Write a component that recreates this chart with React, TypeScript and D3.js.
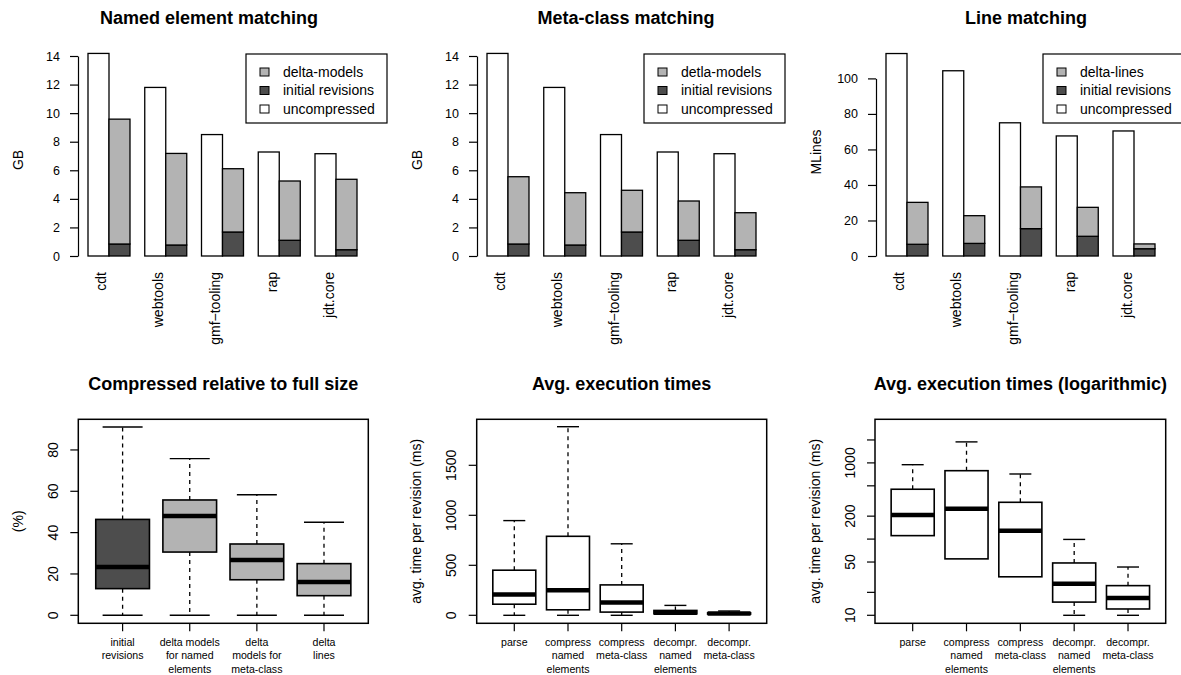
import React, { useEffect, useRef } from 'react';
import * as d3 from 'd3';

const FONT = 'Liberation Sans, Arial, Helvetica, sans-serif';

// top row: storage per project
const projects = ['cdt', 'webtools', 'gmf\u2212tooling', 'rap', 'jdt.core'];
const uncompressedGB = [14.18, 11.8, 8.5, 7.28, 7.16];
const initialGB = [0.84, 0.77, 1.68, 1.1, 0.44];
const deltaNamedGB = [8.74, 6.41, 4.43, 4.15, 4.93];
const deltaMetaGB = [4.71, 3.66, 2.92, 2.75, 2.59];
const uncompressedLines = [114, 104.3, 75, 67.6, 70.4];
const initialLines = [6.6, 7.1, 15.4, 11.1, 4.1];
const deltaLines = [23.6, 15.6, 23.5, 16.3, 2.7];
const gbTicks = [0, 2, 4, 6, 8, 10, 12, 14];
const lineTicks = [0, 20, 40, 60, 80, 100];

// bottom row: box stats [min, q1, median, q3, max]
const ratioLabels = [
  ['initial', 'revisions'],
  ['delta models', 'for named', 'elements'],
  ['delta', 'models for', 'meta-class'],
  ['delta', 'lines'],
];
const ratioStats = [
  [0, 12.9, 23.4, 46.4, 91.1],
  [0, 30.6, 48.0, 55.8, 75.8],
  [0, 17.2, 26.8, 34.5, 58.3],
  [0, 9.5, 16.1, 25.0, 45.0],
];
const ratioFills = ['#4d4d4d', '#b3b3b3', '#b3b3b3', '#b3b3b3'];
const ratioTicks = [0, 20, 40, 60, 80];

const timeLabels = [
  ['parse'],
  ['compress', 'named', 'elements'],
  ['compress', 'meta-class'],
  ['decompr.', 'named', 'elements'],
  ['decompr.', 'meta-class'],
];
const timeStats = [
  [0, 111, 207, 451, 947],
  [0, 55, 250, 790, 1886],
  [0, 32, 129, 304, 715],
  [10, 14.9, 26, 48.6, 99],
  [10, 12.1, 16.9, 24.5, 43],
];
const timeTicks = [0, 500, 1000, 1500];
const logTicks = [10, 20, 50, 100, 200, 500, 1000, 2000];
const logTickLabels = [10, 50, 200, 1000];

function drawBars(svg, o) {
  const g = svg.append('g');
  const y = d3.scaleLinear().domain([0, o.yTop]).range([256, o.yTopPx]);
  const x = d3.scaleBand().domain(projects).range([o.left + 10, o.left + 279]).paddingInner(0.26).paddingOuter(0);
  const bw = x.bandwidth() / 2;

  projects.forEach((p, i) => {
    const x0 = x(p);
    g.append('rect').attr('x', x0).attr('width', bw)
      .attr('y', y(o.uncompressed[i])).attr('height', y(0) - y(o.uncompressed[i]))
      .attr('fill', '#fff').attr('stroke', '#000').attr('stroke-width', 1.3);
    g.append('rect').attr('x', x0 + bw).attr('width', bw)
      .attr('y', y(o.initial[i])).attr('height', y(0) - y(o.initial[i]))
      .attr('fill', '#4d4d4d').attr('stroke', '#000').attr('stroke-width', 1.3);
    const top = o.initial[i] + o.delta[i];
    g.append('rect').attr('x', x0 + bw).attr('width', bw)
      .attr('y', y(top)).attr('height', y(o.initial[i]) - y(top))
      .attr('fill', '#b3b3b3').attr('stroke', '#000').attr('stroke-width', 1.3);

    g.append('text')
      .attr('transform', `translate(${x0 + bw / 2 + 8},272) rotate(-90)`)
      .attr('text-anchor', 'end').attr('font-size', 14).attr('font-family', FONT)
      .text(p);
  });

  const axis = g.append('g').attr('transform', `translate(${o.left},0)`)
    .call(d3.axisLeft(y).tickValues(o.ticks).tickSize(8).tickSizeOuter(0).tickPadding(10));
  axis.selectAll('text').attr('font-size', 12.5).attr('font-family', FONT).attr('fill', '#000');
  axis.selectAll('line, path').attr('stroke', '#000').attr('stroke-width', 1.2);

  g.append('text').attr('transform', `translate(${o.left - 55},${o.ylabY}) rotate(-90)`)
    .attr('text-anchor', 'middle').attr('font-size', 14).attr('font-family', FONT).text(o.ylab);

  g.append('text').attr('x', o.titleX).attr('y', 24).attr('text-anchor', 'middle')
    .attr('font-size', 18).attr('font-weight', 'bold').attr('font-family', FONT).text(o.title);

  // legend
  const lg = g.append('g').attr('transform', `translate(${o.legendX},54)`);
  lg.append('rect').attr('width', 141).attr('height', 69).attr('fill', '#fff').attr('stroke', '#000').attr('stroke-width', 1.2);
  const fills = ['#b3b3b3', '#4d4d4d', '#fff'];
  o.legend.forEach((label, i) => {
    const cy = 18 + i * 18.5;
    lg.append('rect').attr('x', 14).attr('y', cy - 4).attr('width', 9).attr('height', 8)
      .attr('fill', fills[i]).attr('stroke', '#000').attr('stroke-width', 1);
    lg.append('text').attr('x', 37).attr('y', cy).attr('dy', '0.35em')
      .attr('font-size', 14).attr('font-family', FONT).text(label);
  });
}

function drawBoxes(svg, o) {
  const g = svg.append('g');
  const [x0, x1, y0, y1] = o.frame;
  const n = o.stats.length;
  const x = d3.scaleLinear().domain([0.5 - 0.04 * n, n + 0.5 + 0.04 * n]).range([x0, x1]);
  const y = o.y;
  const half = (x(1.4) - x(1)) ;

  o.stats.forEach((s, i) => {
    const cx = x(i + 1);
    const [mn, q1, med, q3, mx] = s;
    const lowOk = !(o.log && mn <= 0);
    g.append('line').attr('x1', cx).attr('x2', cx).attr('y1', y(q3)).attr('y2', y(mx))
      .attr('stroke', '#000').attr('stroke-width', 1.3).attr('stroke-dasharray', '4,4');
    g.append('line').attr('x1', cx - o.cap).attr('x2', cx + o.cap).attr('y1', y(mx)).attr('y2', y(mx))
      .attr('stroke', '#000').attr('stroke-width', 1.4);
    if (lowOk) {
      g.append('line').attr('x1', cx).attr('x2', cx).attr('y1', y(q1)).attr('y2', y(mn))
        .attr('stroke', '#000').attr('stroke-width', 1.3).attr('stroke-dasharray', '4,4');
      g.append('line').attr('x1', cx - o.cap).attr('x2', cx + o.cap).attr('y1', y(mn)).attr('y2', y(mn))
        .attr('stroke', '#000').attr('stroke-width', 1.4);
    }
    g.append('rect').attr('x', cx - half).attr('width', 2 * half)
      .attr('y', y(q3)).attr('height', y(q1) - y(q3))
      .attr('fill', o.fills ? o.fills[i] : '#fff').attr('stroke', '#000').attr('stroke-width', 1.6);
    g.append('line').attr('x1', cx - half).attr('x2', cx + half).attr('y1', y(med)).attr('y2', y(med))
      .attr('stroke', '#000').attr('stroke-width', 4.5);

    g.append('line').attr('x1', cx).attr('x2', cx).attr('y1', y1).attr('y2', y1 + 8)
      .attr('stroke', '#000').attr('stroke-width', 1.2);
    o.labels[i].forEach((line, j) => {
      g.append('text').attr('x', cx).attr('y', y1 + 22.7 + j * 13.4).attr('text-anchor', 'middle')
        .attr('font-size', 10.6).attr('font-family', FONT).text(line);
    });
  });

  g.append('rect').attr('x', x0).attr('y', y0).attr('width', x1 - x0).attr('height', y1 - y0)
    .attr('fill', 'none').attr('stroke', '#000').attr('stroke-width', 1.5);

  o.ticks.forEach(t => {
    g.append('line').attr('x1', x0 - 8).attr('x2', x0).attr('y1', y(t)).attr('y2', y(t))
      .attr('stroke', '#000').attr('stroke-width', 1.2);
  });
  o.tickLabels.forEach(t => {
    g.append('text').attr('transform', `translate(${x0 - 20.5},${y(t)}) rotate(-90)`)
      .attr('text-anchor', 'middle').attr('font-size', 14).attr('font-family', FONT).text(t);
  });

  g.append('text').attr('transform', `translate(${x0 - 55.5},${(y0 + y1) / 2}) rotate(-90)`)
    .attr('text-anchor', 'middle').attr('font-size', 14).attr('font-family', FONT).text(o.ylab);

  g.append('text').attr('x', (x0 + x1) / 2).attr('y', 390).attr('text-anchor', 'middle')
    .attr('font-size', 18).attr('font-weight', 'bold').attr('font-family', FONT).text(o.title);
}

export default function App() {
  const chartRef = useRef(null);

  useEffect(() => {
    const svg = d3.select(chartRef.current);
    svg.selectAll('*').remove();

    drawBars(svg, {
      left: 78, yTop: 14, yTopPx: 56, ticks: gbTicks, ylab: 'GB', ylabY: 160,
      title: 'Named element matching', titleX: 209, legendX: 246,
      legend: ['delta-models', 'initial revisions', 'uncompressed'],
      uncompressed: uncompressedGB, initial: initialGB, delta: deltaNamedGB,
    });
    drawBars(svg, {
      left: 477, yTop: 14, yTopPx: 56, ticks: gbTicks, ylab: 'GB', ylabY: 160,
      title: 'Meta-class matching', titleX: 626, legendX: 644,
      legend: ['detla-models', 'initial revisions', 'uncompressed'],
      uncompressed: uncompressedGB, initial: initialGB, delta: deltaMetaGB,
    });
    drawBars(svg, {
      left: 876, yTop: 100, yTopPx: 78.4, ticks: lineTicks, ylab: 'MLines', ylabY: 152,
      title: 'Line matching', titleX: 1026, legendX: 1043,
      legend: ['delta-lines', 'initial revisions', 'uncompressed'],
      uncompressed: uncompressedLines, initial: initialLines, delta: deltaLines,
    });

    drawBoxes(svg, {
      frame: [78.3, 368.3, 419.3, 623.3],
      y: d3.scaleLinear().domain([-3.87, 94.83]).range([623.3, 419.3]),
      stats: ratioStats, fills: ratioFills, labels: ratioLabels, cap: 20,
      ticks: ratioTicks, tickLabels: ratioTicks,
      title: 'Compressed relative to full size', ylab: '(%)',
    });
    drawBoxes(svg, {
      frame: [476.7, 766.7, 419.3, 623.3],
      y: d3.scaleLinear().domain([-80, 1960]).range([623.3, 419.3]),
      stats: timeStats, labels: timeLabels, cap: 11,
      ticks: timeTicks, tickLabels: timeTicks,
      title: 'Avg. execution times', ylab: 'avg. time per revision (ms)',
    });
    drawBoxes(svg, {
      frame: [875, 1165.7, 419.3, 623.3],
      y: d3.scaleLog().domain([7.85, 3733]).range([623.3, 419.3]),
      stats: timeStats, labels: timeLabels, cap: 11, log: true,
      ticks: logTicks, tickLabels: logTickLabels,
      title: 'Avg. execution times (logarithmic)', ylab: 'avg. time per revision (ms)',
    });
  }, []);

  return (
    <svg ref={chartRef} width={1181} height={675}
      style={{ position: 'absolute', left: 0, top: 0, background: '#fff' }} />
  );
}
